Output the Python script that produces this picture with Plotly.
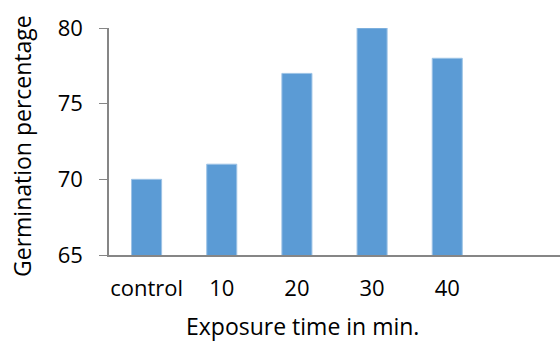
import plotly.graph_objects as go

categories = ["control", "10", "20", "30", "40"]
values = [70, 71, 77, 80, 78]
y_ticks = [65, 70, 75, 80]
x_title = "Exposure time in min."
y_title = "Germination percentage"

font_family = "Open Sans"

fig = go.Figure(go.Bar(
    x=categories, y=values, width=0.4,
    marker=dict(color="#5B9BD5", line=dict(color="#9DC3E6", width=1)),
))

fig.update_layout(
    width=560, height=341,
    margin=dict(l=109, r=0, t=28, b=86),
    paper_bgcolor="white", plot_bgcolor="white",
    font=dict(family=font_family, size=22, color="#000000"),
    showlegend=False,
)
fig.update_xaxes(
    type="category", range=[-0.5, 5.5],
    showline=True, linecolor="#868686", linewidth=2,
    ticks="", showgrid=False, ticklabelstandoff=13,
    tickfont=dict(size=22),
)
fig.update_yaxes(
    range=[65, 80], tickvals=y_ticks,
    showline=True, linecolor="#868686", linewidth=1.5,
    ticks="outside", ticklen=8, tickcolor="#868686", tickwidth=1,
    showgrid=False, zeroline=False, ticklabelstandoff=12,
    tickfont=dict(size=22),
)
fig.add_annotation(
    text=x_title, xref="paper", yref="paper", x=0.43, y=-0.313,
    xanchor="center", yanchor="middle", showarrow=False,
    font=dict(size=23),
)
fig.add_annotation(
    text=y_title, xref="paper", yref="paper", x=-0.193, y=0.48,
    xanchor="center", yanchor="middle", showarrow=False, textangle=-90,
    font=dict(size=23),
)
fig.write_html("out.html")
